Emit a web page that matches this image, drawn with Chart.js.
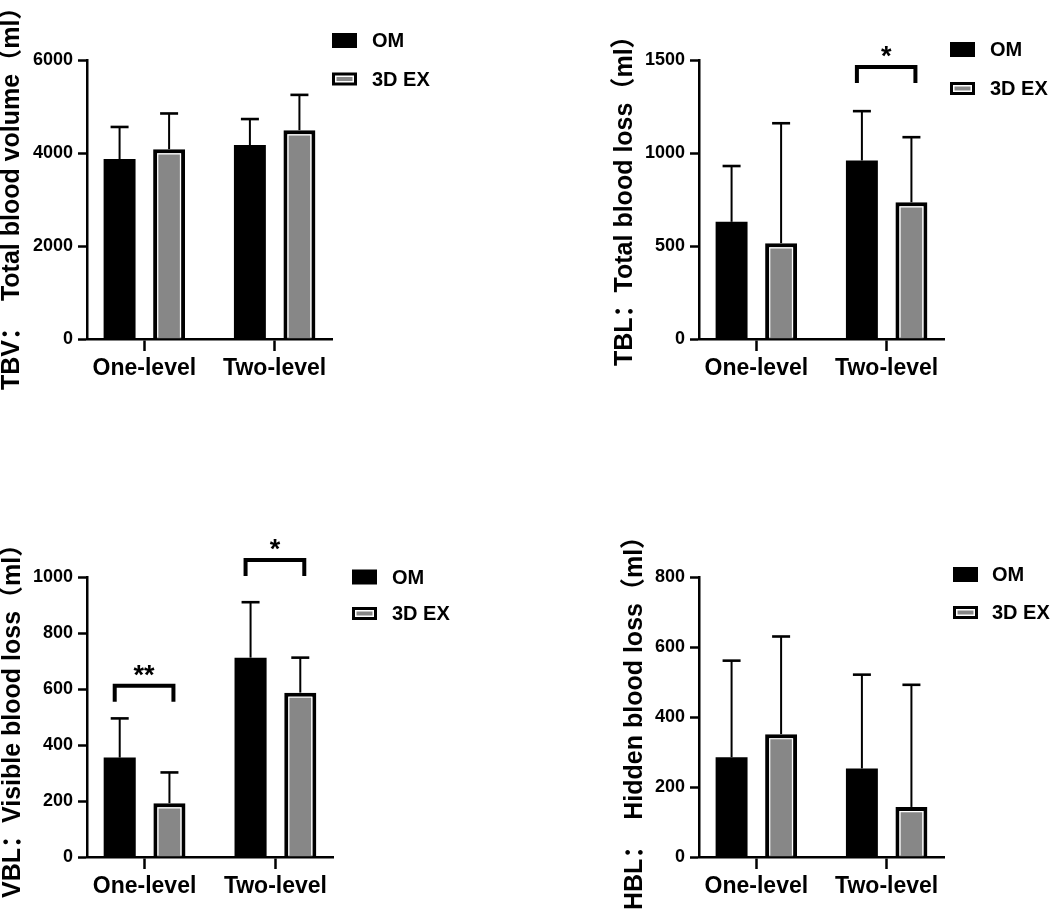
<!DOCTYPE html>
<html>
<head>
<meta charset="utf-8">
<script src="https://cdn.jsdelivr.net/npm/chart.js@4"></script>
<style>
  body { margin: 0; background: #fff; }
  .panel { position: absolute; }
</style>
</head>
<body>
<div class="panel" style="left:0;top:0"><canvas id="c-tbv" width="526" height="456"></canvas></div>
<div class="panel" style="left:526px;top:0"><canvas id="c-tbl" width="527" height="456"></canvas></div>
<div class="panel" style="left:0;top:456px"><canvas id="c-vbl" width="526" height="457"></canvas></div>
<div class="panel" style="left:526px;top:456px"><canvas id="c-hbl" width="527" height="457"></canvas></div>
<script>
// 共通データ
const categories = ['One-level', 'Two-level'];
const seriesNames = ['OM', '3D EX'];

// TBV
const tbvOM = [3870, 4170];
const tbvOMSD = [690, 560];
const tbv3D = [4080, 4490];
const tbv3DSD = [770, 760];
const tbvTicks = [0, 2000, 4000, 6000];

// TBL
const tblOM = [630, 960];
const tblOMSD = [300, 265];
const tbl3D = [515, 735];
const tbl3DSD = [645, 350];
const tblTicks = [0, 500, 1000, 1500];
const tblSig = [{ cat: 1, y: 1462, label: '*' }];

// VBL
const vblOM = [355, 712];
const vblOMSD = [140, 198];
const vbl3D = [192, 587];
const vbl3DSD = [110, 125];
const vblTicks = [0, 200, 400, 600, 800, 1000];
const vblSig = [{ cat: 0, y: 612, label: '**' }, { cat: 1, y: 1061, label: '*' }];

// HBL
const hblOM = [285, 253];
const hblOMSD = [276, 268];
const hbl3D = [351, 143];
const hbl3DSD = [279, 349];
const hblTicks = [0, 200, 400, 600, 800];

const FONT = "'Liberation Sans', Arial, 'Noto Sans CJK SC', sans-serif";
const GRAY = '#878787';

// 凡例・タイトル・エラーバー・有意差をまとめて描く
const decorPlugin = {
  id: 'decor',
  afterDatasetsDraw(chart, args, opts) {
    const ctx = chart.ctx;
    const yScale = chart.scales.y;

    // 3D EX の内側の白線（左・上・右）
    const m1 = chart.getDatasetMeta(1);
    ctx.save();
    ctx.strokeStyle = '#fff';
    ctx.lineWidth = 1.2;
    m1.data.forEach((bar) => {
      const p = bar.getProps(['x', 'y', 'base', 'width'], true);
      const inset = 4.6;
      const l = p.x - p.width / 2 + inset;
      const r = p.x + p.width / 2 - inset;
      ctx.beginPath();
      ctx.moveTo(l, p.base - 1);
      ctx.lineTo(l, p.y + inset);
      ctx.lineTo(r, p.y + inset);
      ctx.lineTo(r, p.base - 1);
      ctx.stroke();
    });
    ctx.restore();

    // エラーバー（上方向のみ）
    ctx.save();
    ctx.strokeStyle = '#000';
    chart.data.datasets.forEach((ds, di) => {
      const meta = chart.getDatasetMeta(di);
      meta.data.forEach((bar, i) => {
        const p = bar.getProps(['x', 'y'], true);
        const top = yScale.getPixelForValue(ds.data[i].y + ds.sd[i]);
        ctx.lineWidth = 2;
        ctx.beginPath();
        ctx.moveTo(p.x, p.y);
        ctx.lineTo(p.x, top);
        ctx.stroke();
        ctx.lineWidth = 2.6;
        ctx.beginPath();
        ctx.moveTo(p.x - 9, top);
        ctx.lineTo(p.x + 9, top);
        ctx.stroke();
      });
    });
    ctx.restore();
  },
  afterDraw(chart, args, opts) {
    const ctx = chart.ctx;
    const yScale = chart.scales.y;

    // 有意差ブラケット
    ctx.save();
    (opts.sig || []).forEach((s) => {
      const a = chart.getDatasetMeta(0).data[s.cat].x - 5;
      const b = chart.getDatasetMeta(1).data[s.cat].x + 4;
      const y = yScale.getPixelForValue(s.y);
      ctx.strokeStyle = '#000';
      ctx.lineWidth = 4;
      ctx.lineJoin = 'miter';
      ctx.beginPath();
      ctx.moveTo(a, y + 16);
      ctx.lineTo(a, y);
      ctx.lineTo(b, y);
      ctx.lineTo(b, y + 16);
      ctx.stroke();
      ctx.fillStyle = '#000';
      ctx.font = 'bold 27px ' + FONT;
      ctx.textAlign = 'center';
      ctx.textBaseline = 'alphabetic';
      ctx.fillText(s.label, (a + b) / 2, y - 2);
    });
    ctx.restore();

    // 凡例
    ctx.save();
    const lg = opts.legend;
    chart.data.datasets.forEach((ds, i) => {
      const cy = lg.y[i];
      const h = i === 0 ? 15 : 13;
      ctx.fillStyle = '#000';
      ctx.fillRect(lg.x, cy - h / 2, 25, h);
      if (i === 1) {
        ctx.fillStyle = '#fff';
        ctx.fillRect(lg.x + 3, cy - h / 2 + 3, 19, h - 6);
        ctx.fillStyle = GRAY;
        ctx.fillRect(lg.x + 4.5, cy - h / 2 + 4.5, 16, h - 9);
      }
      ctx.fillStyle = '#000';
      ctx.font = 'bold 20px ' + FONT;
      ctx.textAlign = 'left';
      ctx.textBaseline = 'middle';
      ctx.fillText(ds.label, lg.textX, cy + 1);
    });
    ctx.restore();

    // Y軸タイトル
    ctx.save();
    ctx.translate(opts.title.x, opts.title.y);
    ctx.rotate(-Math.PI / 2);
    ctx.fillStyle = '#000';
    ctx.font = 'bold 25px ' + FONT;
    ctx.textAlign = 'left';
    ctx.textBaseline = 'middle';
    ctx.fillText(opts.title.text, 0, 0);
    ctx.restore();
  },
};

function makePanel(id, om, omSD, ex, exSD, ticks, pad, deco) {
  const yMax = ticks[ticks.length - 1];
  return new Chart(document.getElementById(id), {
    type: 'bar',
    data: {
      datasets: [
        {
          label: seriesNames[0],
          data: om.map((v, i) => ({ x: i, y: v })),
          sd: omSD,
          backgroundColor: '#000',
          borderWidth: 0,
        },
        {
          label: seriesNames[1],
          data: ex.map((v, i) => ({ x: i, y: v })),
          sd: exSD,
          backgroundColor: GRAY,
          borderColor: '#000',
          borderWidth: 4,
          borderSkipped: 'start',
        },
      ],
    },
    options: {
      responsive: false,
      animation: false,
      devicePixelRatio: 1,
      categoryPercentage: 0.76,
      barPercentage: 0.645,
      layout: { padding: pad },
      plugins: { legend: { display: false }, tooltip: { enabled: false }, decor: deco },
      scales: {
        x: {
          type: 'linear',
          bounds: 'data',
          offset: false,
          min: -0.44,
          max: 1.44,
          afterBuildTicks: (s) => { s.ticks = categories.map((c, i) => ({ value: i })); },
          afterFit: (s) => { s.height = 50; },
          grid: { offset: false, drawOnChartArea: false, drawTicks: true, tickLength: 12, tickWidth: 2.5, tickColor: '#000' },
          border: { display: true, width: 2.5, color: '#000' },
          ticks: {
            callback: (v) => categories[v],
            color: '#000',
            padding: 4,
            maxRotation: 0,
            autoSkip: false,
            font: { family: FONT, size: 23, weight: 'bold' },
          },
        },
        y: {
          min: 0,
          max: yMax,
          afterBuildTicks: (s) => { s.ticks = ticks.map((v) => ({ value: v })); },
          afterFit: (s) => { s.width = 87; },
          grid: { drawOnChartArea: false, drawTicks: true, tickLength: 9, tickWidth: 2.5, tickColor: '#000' },
          border: { display: true, width: 2.5, color: '#000' },
          ticks: {
            callback: (v) => String(v),
            color: '#000',
            padding: 5,
            font: { family: FONT, size: 18, weight: 'bold' },
          },
        },
      },
    },
    plugins: [decorPlugin],
  });
}

makePanel('c-tbv', tbvOM, tbvOMSD, tbv3D, tbv3DSD, tbvTicks,
  { left: 0, right: 194, top: 60, bottom: 67 },
  { legend: { x: 332, textX: 372, y: [40.5, 79] }, title: { x: 12.5, y: 390, text: 'TBV：  Total blood volume（ml）' } });

makePanel('c-tbl', tblOM, tblOMSD, tbl3D, tbl3DSD, tblTicks,
  { left: 86, right: 109, top: 60, bottom: 67 },
  { sig: tblSig, legend: { x: 424, textX: 464, y: [49.5, 88.5] }, title: { x: 99, y: 366, text: 'TBL：Total blood loss（ml）' } });

makePanel('c-vbl', vblOM, vblOMSD, vbl3D, vbl3DSD, vblTicks,
  { left: 0, right: 193, top: 121, bottom: 6 },
  { sig: vblSig, legend: { x: 352, textX: 392, y: [121, 157.5] }, title: { x: 13.5, y: 442, text: 'VBL：Visible blood loss（ml）' } });

makePanel('c-hbl', hblOM, hblOMSD, hbl3D, hbl3DSD, hblTicks,
  { left: 86, right: 109, top: 121, bottom: 6 },
  { legend: { x: 427, textX: 466, y: [118.5, 156.5] }, title: { x: 109, y: 454, text: 'HBL：  Hidden blood loss（ml）' } });
</script>
</body>
</html>
